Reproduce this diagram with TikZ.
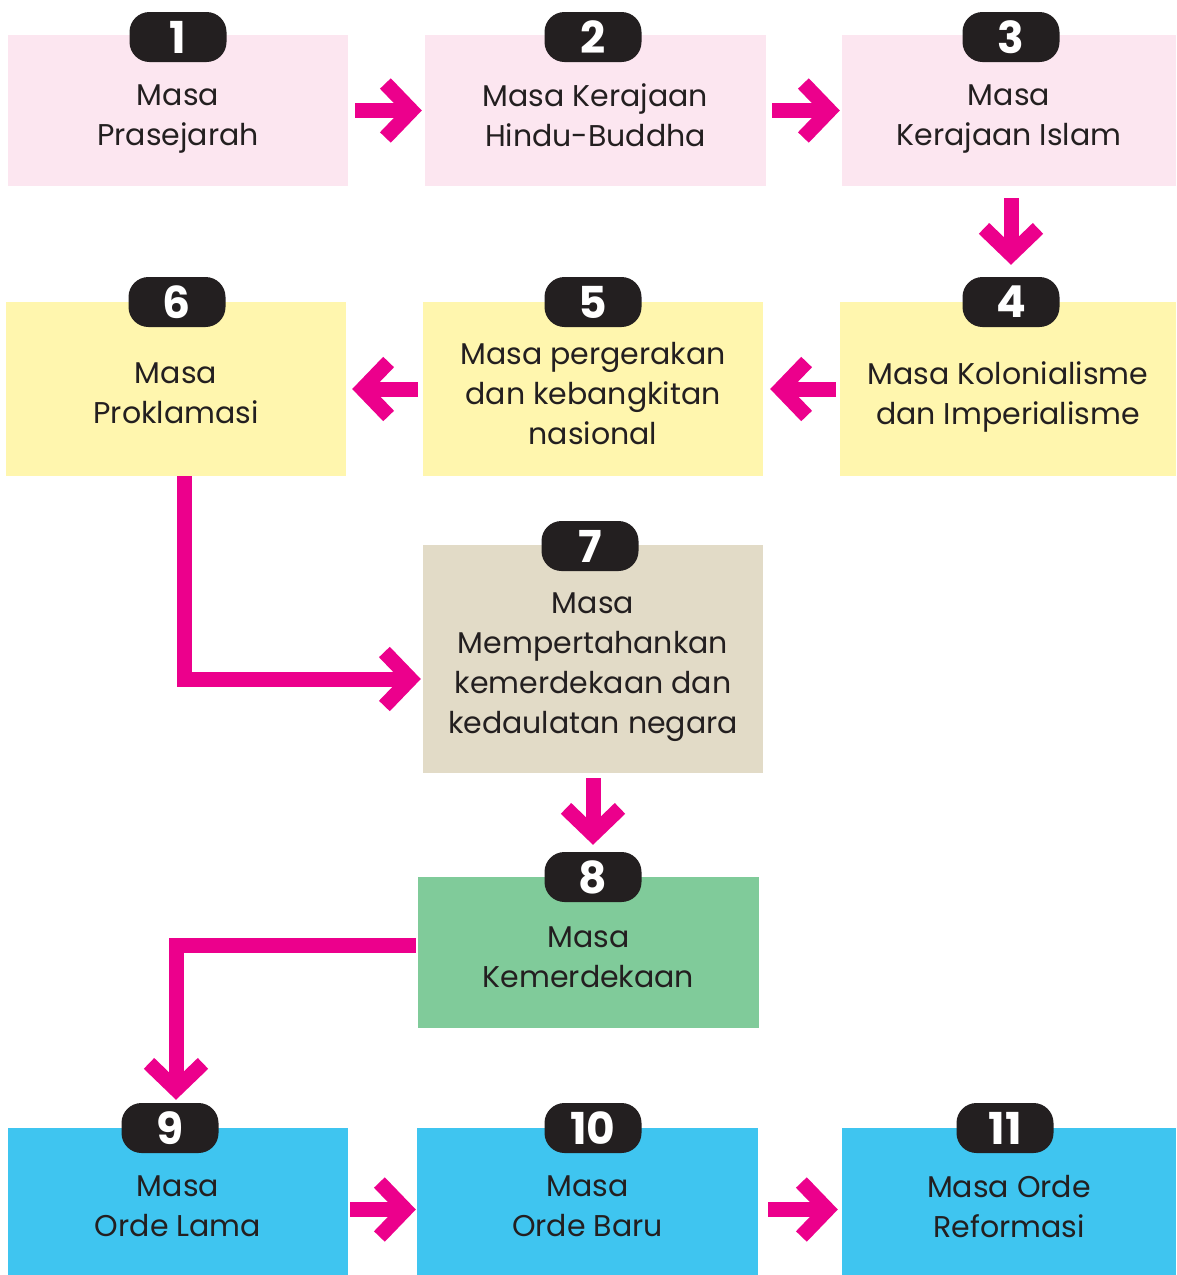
\documentclass[tikz,border=0pt]{standalone}
\usepackage{fontspec}
\setmainfont{Poppins}
\usetikzlibrary{arrows.meta}
\definecolor{ink}{HTML}{231F20}
\definecolor{flowpink}{HTML}{EC008C}
\definecolor{rowpink}{HTML}{FCE6F0}
\definecolor{rowyellow}{HTML}{FFF6AE}
\definecolor{rowbeige}{HTML}{E2DBC7}
\definecolor{rowgreen}{HTML}{80CB9A}
\definecolor{rowblue}{HTML}{3FC5F0}
\begin{document}
\begin{tikzpicture}[x=1pt,y=-1pt,
    box/.style={inner sep=0pt},
    boxtext/.style={inner sep=0pt, align=center, text=ink, yshift=-8pt,
      text depth=7pt, font=\fontsize{30}{40}\selectfont},
    badge/.style={fill=ink, text=white, rounded corners=20pt,
      minimum width=97pt, minimum height=50pt, inner sep=0pt,
      font=\fontsize{44}{44}\selectfont\bfseries},
    flow/.style={draw=flowpink, line width=15pt,
      -{Straight Barb[length=26pt,width=54pt]}}]
  % Page
  \useasboundingbox (0,0) rectangle (1176,1275);
  % Boxes
  \foreach \n/\x/\y/\w/\h/\c/\t in {
      1/178/110.5/340/151/rowpink/{Masa\\Prasejarah},
      2/595.5/110.5/341/151/rowpink/{Masa Kerajaan\\Hindu-Buddha},
      3/1009/110.5/334/151/rowpink/{Masa\\Kerajaan Islam},
      4/1008/389/336/174/rowyellow/{Masa Kolonialisme\\dan Imperialisme},
      5/593/389/340/174/rowyellow/{Masa pergerakan\\dan kebangkitan\\nasional},
      6/176/389/340/174/rowyellow/{Masa\\Proklamasi},
      7/593/659/340/228/rowbeige/{Masa\\Mempertahankan\\kemerdekaan dan\\kedaulatan negara},
      8/588.5/952.5/341/151/rowgreen/{Masa\\Kemerdekaan},
      9/178/1201.5/340/147/rowblue/{Masa\\Orde Lama},
      10/587.5/1201.5/341/147/rowblue/{Masa\\Orde Baru},
      11/1009/1201.5/334/147/rowblue/{Masa Orde\\Reformasi}} {
    \node[box, fill=\c, minimum width=\w pt, minimum height=\h pt,
      label={[boxtext]center:\t}] (box\n) at (\x,\y) {};
  }
  % Number badges
  \foreach \n/\x/\y in {1/178/37, 2/593/37, 3/1011/37, 4/1011/302,
      5/593/302, 6/177/302, 7/590/546, 8/593/877, 9/170/1128,
      10/593/1128, 11/1005/1128} {
    \node[badge] (b\n) at (\x,\y) {\n};
  }
  % Arrows
  \draw[flow, shorten <=7pt, shorten >=3pt] (box1.east) -- (box2.west);
  \draw[flow, shorten <=6pt, shorten >=2pt] (box2.east) -- (box3.west);
  \draw[flow, shorten <=12pt, shorten >=12pt] (box3.south -| b4.north) -- (b4.north);
  \draw[flow, shorten <=4pt, shorten >=7pt] (box4.west) -- (box5.east);
  \draw[flow, shorten <=5pt, shorten >=6pt] (box5.west) -- (box6.east);
  \draw[flow, shorten >=2pt] ([xshift=8pt]box6.south) |- ([yshift=-20pt]box7.west);
  \draw[flow, shorten <=5pt, shorten >=7pt] (box7.south) -- (b8.north);
  \draw[flow, shorten <=2pt, shorten >=3pt] ([yshift=7.5pt]box8.west) -| ([xshift=6pt]b9.north);
  \draw[flow, shorten <=2pt, shorten >=1pt] ([yshift=-8pt]box9.east) -- ([yshift=-8pt]box10.west);
  \draw[flow, shorten <=10pt, shorten >=4pt] ([yshift=-8pt]box10.east) -- ([yshift=-8pt]box11.west);
\end{tikzpicture}
\end{document}
